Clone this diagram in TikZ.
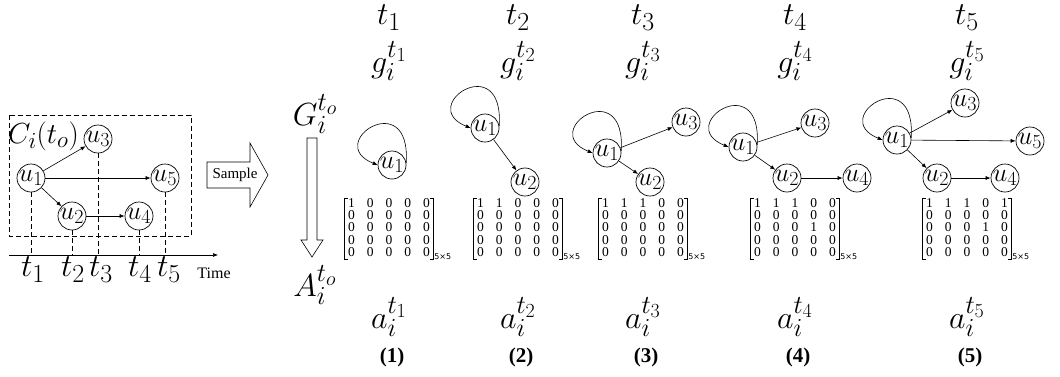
\RequirePackage{fix-cm}
\documentclass[tikz,border=0pt]{standalone}
\usepackage{fontspec}
\newfontfamily\tnr{Liberation Serif}
\newfontfamily\dvs{DejaVu Sans}
\usetikzlibrary{arrows.meta}
\DeclareMathSizes{32}{32}{26}{20}
\DeclareMathSizes{29}{29}{23}{18}
\DeclareMathSizes{26}{26}{20}{15}
\setlength{\tabcolsep}{6pt}
\newcommand\unode[1]{\makebox[0pt]{$u_{#1}$}}
\newcommand\mtx[5]{\begin{tabular}{@{}*{5}{c}@{}}#1\\#2\\#3\\#4\\#5\end{tabular}}
\begin{document}
\begin{tikzpicture}[x=1pt,y=-1pt,
 gn/.style={circle,draw,line width=0.7pt,inner sep=0pt,minimum size=28pt,font=\fontsize{26}{26}\selectfont},
 ed/.style={-{Latex[length=5pt,width=4pt]},line width=0.6pt},
 lp/.style={-{Latex[length=5pt,width=4pt]},line width=0.6pt},
 lbl/.style={inner sep=0pt,font=\fontsize{32}{32}\selectfont},
 num/.style={inner sep=0pt,font=\tnr\bfseries\fontsize{21}{21}\selectfont},
 mat/.style={inner xsep=3pt,inner ysep=0pt,font=\tnr\fontsize{13.5}{11}\selectfont},
 brk/.style={line width=1pt},
 dim/.style={inner sep=0pt,anchor=south west,font=\dvs\fontsize{8}{8}\selectfont},
 vd/.style={dash pattern=on 5pt off 3pt,line width=0.6pt},
 blk/.style={line width=0.6pt}]
\useasboundingbox (0,0) rectangle (1060,376);

% ---------- left panel ----------
\draw[vd] (9,115) rectangle (191,236);
\node[inner sep=0pt,font=\fontsize{29}{29}\selectfont,anchor=west] (ci) at (8,136) {$C_i(t_o)$};
\node[gn] (a1) at (31,178) {\unode{1}};
\node[gn] (a3) at (98,139) {\unode{3}};
\node[gn] (a5) at (165,178) {\unode{5}};
\node[gn] (a2) at (72,216) {\unode{2}};
\node[gn] (a4) at (139,216) {\unode{4}};
\draw[ed] (a1) -- (a3);
\draw[ed] (a1) -- (a5);
\draw[ed] (a1) -- (a2);
\draw[ed] (a2) -- (a4);
\coordinate (ts) at (9,255);
\coordinate (te) at (218,255);
\draw[ed] (ts) -- (te);
\foreach \n in {a1,a2,a3,a4,a5}{\draw[vd] (\n.south) -- (\n.south |- ts);}
\node[lbl] (tl1) at (33,270) {$t_1$};
\node[lbl] (tl2) at (73,270) {$t_2$};
\node[lbl] (tl3) at (101,270) {$t_3$};
\node[lbl] (tl4) at (140,270) {$t_4$};
\node[lbl] (tl5) at (169,270) {$t_5$};
\node[inner sep=0pt,font=\tnr\fontsize{16}{16}\selectfont] (time) at (214,273) {Time};

% ---------- sample arrow ----------
\draw[blk] (207,162) -- (250,162) -- (250,143) -- (268,175) -- (250,207) -- (250,188) -- (207,188) -- cycle;
\node[inner sep=0pt,font=\tnr\fontsize{15}{15}\selectfont] (smp) at (235,175) {Sample};

% ---------- G -> A ----------
\node[lbl] (G) at (315,114) {$G_i^{t_o}$};
\node[lbl] (A) at (315,285) {$A_i^{t_o}$};
\draw[blk] (307,138) -- (317,138) -- (317,240) -- (323,240) -- (312,257) -- (301,240) -- (307,240) -- cycle;

% ---------- column labels ----------
\foreach \k/\x in {1/389,2/518,3/643,4/795,5/967}{
  \node[lbl] (t\k) at (\x,18) {$t_{\k}$};
  \node[lbl] (g\k) at (\x,61) {$g_i^{t_{\k}}$};
  \node[lbl] (av\k) at (\x,317) {$a_i^{t_{\k}}$};
  \node[num] (n\k) at (\x+3,357) {(\k)};
}

% ---------- matrices ----------
\node[mat] (m1) at (389,229) {\mtx{1&0&0&0&0}{0&0&0&0&0}{0&0&0&0&0}{0&0&0&0&0}{0&0&0&0&0}};
\node[mat] (m2) at (518,229) {\mtx{1&1&0&0&0}{0&0&0&0&0}{0&0&0&0&0}{0&0&0&0&0}{0&0&0&0&0}};
\node[mat] (m3) at (643,229) {\mtx{1&1&1&0&0}{0&0&0&0&0}{0&0&0&0&0}{0&0&0&0&0}{0&0&0&0&0}};
\node[mat] (m4) at (795,229) {\mtx{1&1&1&0&0}{0&0&0&0&0}{0&0&0&1&0}{0&0&0&0&0}{0&0&0&0&0}};
\node[mat] (m5) at (967,229) {\mtx{1&1&1&0&1}{0&0&0&0&0}{0&0&0&1&0}{0&0&0&0&0}{0&0&0&0&0}};
\foreach \m in {m1,m2,m3,m4,m5}{
  \draw[brk] ([xshift=3pt]\m.north west) -- (\m.north west) -- (\m.south west) -- ([xshift=3pt]\m.south west);
  \draw[brk] ([xshift=-3pt]\m.north east) -- (\m.north east) -- (\m.south east) -- ([xshift=-3pt]\m.south east);
  \node[dim] (\m d) at ([xshift=1pt]\m.south east) {5×5};
}

% ---------- panel 1 ----------
\node[gn] (p1a) at (392,165) {\unode{1}};
\draw[lp] (p1a.8) .. controls +(5,-78) and +(-55,-22) .. (p1a.west);

% ---------- panel 2 ----------
\node[gn] (p2a) at (485,128) {\unode{1}};
\node[gn] (p2b) at (525,182) {\unode{2}};
\draw[lp] (p2a.8) .. controls +(5,-78) and +(-55,-22) .. (p2a.west);
\draw[ed] (p2a) -- (p2b);

% ---------- panel 3 ----------
\node[gn] (p3a) at (607,153) {\unode{1}};
\node[gn] (p3c) at (686,122) {\unode{3}};
\node[gn] (p3b) at (650,182) {\unode{2}};
\draw[lp] (p3a.8) .. controls +(5,-78) and +(-55,-22) .. (p3a.west);
\draw[ed] (p3a) -- (p3c);
\draw[ed] (p3a) -- (p3b);

% ---------- panel 4 ----------
\node[gn] (p4a) at (743,147) {\unode{1}};
\node[gn] (p4c) at (815,123) {\unode{3}};
\node[gn] (p4b) at (787,178) {\unode{2}};
\node[gn] (p4d) at (857,178) {\unode{4}};
\draw[lp] (p4a.8) .. controls +(5,-78) and +(-55,-22) .. (p4a.west);
\draw[ed] (p4a) -- (p4c);
\draw[ed] (p4a) -- (p4b);
\draw[ed] (p4b) -- (p4d);

% ---------- panel 5 ----------
\node[gn] (p5a) at (897,140) {\unode{1}};
\node[gn] (p5c) at (965,103) {\unode{3}};
\node[gn] (p5e) at (1030,141) {\unode{5}};
\node[gn] (p5b) at (937,178) {\unode{2}};
\node[gn] (p5d) at (1005,178) {\unode{4}};
\draw[lp] (p5a.8) .. controls +(5,-78) and +(-55,-22) .. (p5a.west);
\draw[ed] (p5a) -- (p5c);
\draw[ed] (p5a) -- (p5e);
\draw[ed] (p5a) -- (p5b);
\draw[ed] (p5b) -- (p5d);
\end{tikzpicture}
\end{document}
